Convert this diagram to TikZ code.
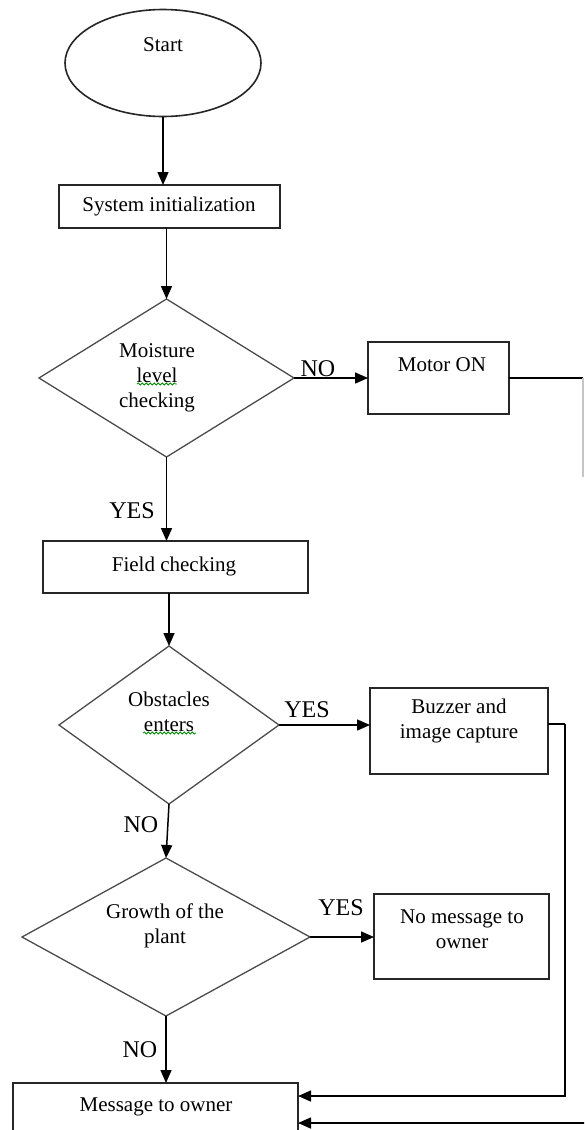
\documentclass[tikz,border=0pt]{standalone}
\usepackage{fontspec}
\setmainfont{Liberation Serif}
\usetikzlibrary{shapes.geometric,arrows.meta,decorations.pathmorphing}
\begin{document}
\begin{tikzpicture}[x=1pt,y=-1pt,
  shp/.style={draw=black!85, line width=1.6pt, inner sep=0pt, outer sep=0pt},
  dia/.style={diamond, draw=black!70, line width=1.3pt, inner sep=0pt, outer sep=0pt},
  txt/.style={font=\fontsize{21}{25}\selectfont, align=center, inner sep=0pt},
  lbl/.style={font=\fontsize{24}{26}\selectfont, inner sep=0pt},
  arr/.style={line width=1.5pt, -{Triangle[length=13pt,width=11pt]}},
  ln/.style={line width=1.5pt},
  squig/.style={green!55!black, line width=0.8pt, decorate, decoration={snake, amplitude=1pt, segment length=4pt}}]
\useasboundingbox (0,0) rectangle (584,1130);
\fill[white] (0,0) rectangle (584,1130);
\begin{scope}
\clip (0,0) rectangle (584,1130);
% shapes
\node[shp, ellipse, minimum width=196pt, minimum height=107pt] (start) at (163,63) {};
\node[txt] (startT) at (163,45) {Start};
\node[shp, rectangle, minimum width=221pt, minimum height=43pt] (init) at (169.5,206.5) {};
\node[txt] (initT) at (169,206) {System initialization};
\node[dia, minimum width=255pt, minimum height=158pt] (moist) at (166.5,378) {};
\node[txt] (moistT) at (157,378) {Moisture\\level\\checking};
\node[shp, minimum width=141pt, minimum height=72pt] (motor) at (438.5,378) {};
\node[txt] (motorT) at (442,365) {Motor ON};
\node[shp, minimum width=265pt, minimum height=52pt] (field) at (175.5,567) {};
\node[txt] (fieldT) at (174,566) {Field checking};
\node[dia, minimum width=220pt, minimum height=158pt] (obst) at (169,725) {};
\node[txt] (obstT) at (169,712) {Obstacles\\enters};
\node[shp, minimum width=178pt, minimum height=86pt] (buzz) at (459,731) {};
\node[txt] (buzzT) at (459,721) {Buzzer and\\image capture};
\node[dia, minimum width=288pt, minimum height=158pt] (growth) at (166,937) {};
\node[txt] (growthT) at (165,926) {Growth of the\\plant};
\node[shp, minimum width=175pt, minimum height=85pt] (nomsg) at (461.5,936.5) {};
\node[txt] (nomsgT) at (462,929) {No message to\\owner};
\node[shp, minimum width=285pt, minimum height=70pt] (msg) at (155.5,1118) {};
\node[txt] (msgT) at (156,1107) {Message to owner};
% spell-check squiggles
\draw[squig] (137,384) -- (177,384);
\draw[squig] (143,733) -- (196,733);
% coordinates
\coordinate (mR) at (583,378);
\coordinate (mEnd) at (583,477);
\coordinate (bA) at (565,724);
\coordinate (bR) at (586,1123);
% connectors
\draw[arr] (start.south) -- (start.south |- init.north);
\draw[arr] (init.south -| moist.north) -- (moist.north);
\draw[arr] (moist.east) -- (motor.west);
\node[lbl] (no1) at (318,369) {NO};
\draw[ln] (motor.east) -- (mR);
\draw[ln, gray!45] (mR) -- (mEnd);
\draw[arr] (moist.south) -- (moist.south |- field.north);
\node[lbl] (yes1) at (132,511) {YES};
\draw[arr] (field.south -| obst.north) -- (obst.north);
\draw[arr] (obst.east) -- (obst.east -| buzz.west);
\node[lbl] (yes2) at (307,710) {YES};
\draw[arr] (obst.south) -- (growth.north);
\node[lbl] (no2) at (141,825) {NO};
\draw[arr] (growth.east) -- (growth.east -| nomsg.west);
\node[lbl] (yes3) at (341,908) {YES};
\draw[arr] (growth.south) -- (growth.south |- msg.north);
\node[lbl] (no3) at (140,1050) {NO};
\draw[ln] (buzz.east |- bA) -- (bA);
\draw[arr] (bA) |- ([yshift=-13pt]msg.north east);
\draw[arr] (bR) -- ([yshift=-40pt]msg.north east);
\end{scope}
\end{tikzpicture}
\end{document}
